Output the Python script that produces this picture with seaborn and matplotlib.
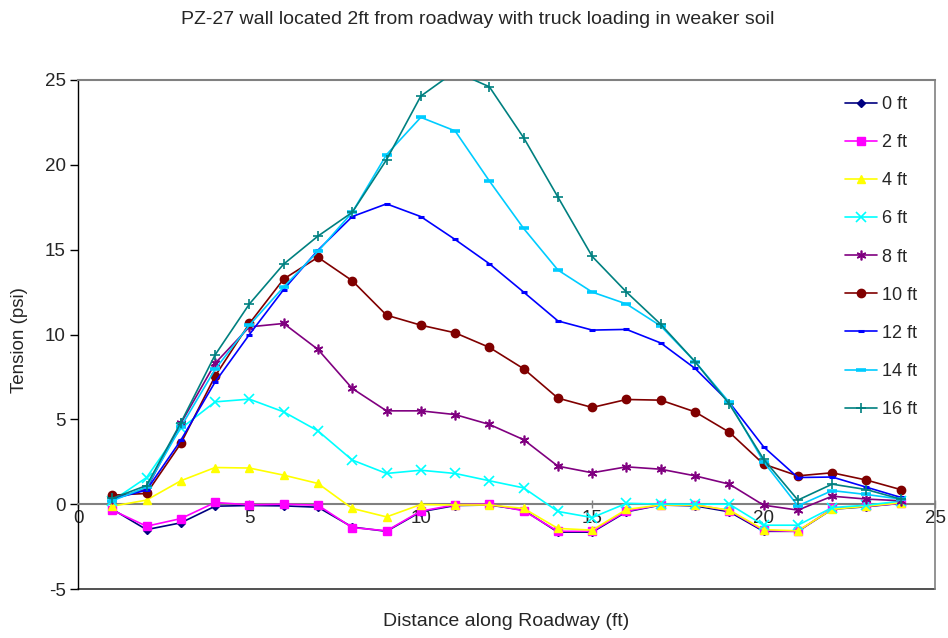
import matplotlib
matplotlib.use("Agg")
import matplotlib.pyplot as plt
import seaborn as sns
import pandas as pd

# Distance along the roadway (ft)
distance = list(range(1, 25))

# Tension (psi) at each depth below the top of the wall
depth_labels = ["0 ft", "2 ft", "4 ft", "6 ft", "8 ft", "10 ft", "12 ft", "14 ft", "16 ft"]

t_0ft = [-0.30, -1.50, -1.10, -0.12, -0.08, -0.10, -0.18, -1.35, -1.60, -0.45, -0.08, -0.05,
         -0.35, -1.65, -1.65, -0.45, -0.05, -0.10, -0.45, -1.60, -1.60, -0.30, -0.15, 0.05]
t_2ft = [-0.35, -1.30, -0.85, 0.10, -0.04, 0.00, -0.06, -1.38, -1.57, -0.41, -0.04, 0.00,
         -0.39, -1.60, -1.60, -0.41, -0.04, -0.04, -0.38, -1.55, -1.60, -0.25, -0.12, 0.05]
t_4ft = [-0.12, 0.24, 1.38, 2.16, 2.13, 1.71, 1.22, -0.25, -0.75, -0.02, -0.05, -0.05,
         -0.25, -1.43, -1.53, -0.31, -0.05, -0.05, -0.35, -1.50, -1.57, -0.30, -0.12, 0.08]
t_6ft = [0.20, 1.57, 4.46, 6.03, 6.19, 5.44, 4.32, 2.60, 1.81, 2.00, 1.81, 1.38,
         0.96, -0.43, -0.79, 0.05, 0.00, 0.00, 0.00, -1.24, -1.24, -0.20, -0.06, 0.18]
t_8ft = [0.30, 0.90, 4.76, 8.30, 10.45, 10.65, 9.12, 6.82, 5.50, 5.50, 5.28, 4.70,
         3.80, 2.24, 1.85, 2.20, 2.06, 1.67, 1.18, -0.06, -0.35, 0.47, 0.30, 0.20]
t_10ft = [0.53, 0.63, 3.58, 7.55, 10.65, 13.27, 14.55, 13.17, 11.14, 10.55, 10.10, 9.24,
          7.98, 6.25, 5.70, 6.17, 6.13, 5.44, 4.24, 2.36, 1.67, 1.85, 1.42, 0.86]
t_12ft = [0.30, 0.83, 3.77, 7.20, 10.00, 12.65, 14.97, 16.95, 17.70, 16.95, 15.60, 14.17,
          12.50, 10.80, 10.26, 10.30, 9.50, 8.00, 6.00, 3.38, 1.57, 1.60, 1.00, 0.40]
t_14ft = [0.20, 1.00, 4.55, 7.95, 10.55, 12.80, 14.90, 17.20, 20.60, 22.80, 22.00, 19.05,
          16.25, 13.80, 12.50, 11.80, 10.50, 8.40, 6.00, 2.50, -0.10, 0.80, 0.57, 0.30]
t_16ft = [0.34, 1.10, 4.80, 8.80, 11.80, 14.15, 15.80, 17.20, 20.30, 24.05, 25.50, 24.60,
          21.60, 18.10, 14.60, 12.50, 10.60, 8.40, 5.90, 2.65, 0.24, 1.18, 0.86, 0.30]

series = [t_0ft, t_2ft, t_4ft, t_6ft, t_8ft, t_10ft, t_12ft, t_14ft, t_16ft]

colors = ["#000080", "#FF00FF", "#FFFF00", "#00FFFF", "#800080",
          "#800000", "#0000FF", "#00CCFF", "#008080"]
markers = ["D", "s", "^", "x", (6, 2, 0), "o", "_", "_", "+"]
msizes = [4, 5.5, 6, 6.5, 7, 6, 4, 6.5, 7.5]
mews = [1, 1, 1, 1.2, 1.2, 1, 2.2, 2.6, 1.2]

sns.set_style("white")
plt.rcParams["font.family"] = ["Liberation Sans", "DejaVu Sans"]
plt.rcParams["axes.unicode_minus"] = False

fig = plt.figure(figsize=(9.48, 6.38), dpi=100)
ax = fig.add_axes([78 / 948, 49 / 638, 857 / 948, 509 / 638])

df = pd.DataFrame({"distance": distance})
for lab, vals, c, m, ms, mew in zip(depth_labels, series, colors, markers, msizes, mews):
    df[lab] = vals
    sns.lineplot(data=df, x="distance", y=lab, ax=ax, color=c, marker=m,
                 markersize=ms, markeredgewidth=mew, markeredgecolor=c,
                 linewidth=1.2, label=lab, zorder=3)

ax.set_xlim(0, 25)
ax.set_ylim(-5, 25)
ax.set_xticks([0, 5, 10, 15, 20, 25])
ax.set_yticks([-5, 0, 5, 10, 15, 20, 25])
ax.set_xlabel("")
ax.set_ylabel("")

# x axis crosses at zero tension
ax.spines["bottom"].set_position(("data", 0))
ax.spines["bottom"].set_color("#808080")
ax.spines["bottom"].set_linewidth(1.5)
ax.spines["left"].set_color("black")
ax.spines["left"].set_linewidth(1.0)
ax.spines["top"].set_color("#808080")
ax.spines["top"].set_linewidth(1.5)
ax.spines["right"].set_color("#808080")
ax.spines["right"].set_linewidth(1.2)
ax.axhline(-5, color="#333333", lw=1.2, zorder=2, clip_on=False)

ax.tick_params(axis="x", direction="inout", length=6, width=1, color="#808080",
               labelsize=13.5, pad=1, bottom=True)
ax.tick_params(axis="y", direction="out", length=6, width=1, color="black",
               labelsize=13.5, pad=3, left=True)

fig.text(478 / 948, 1 - 20 / 638,
         "PZ-27 wall located 2ft from roadway with truck loading in weaker soil",
         ha="center", va="center", fontsize=14)
fig.text(506 / 948, 1 - 622 / 638, "Distance along Roadway (ft)",
         ha="center", va="center", fontsize=14)
fig.text(20 / 948, 1 - 340 / 638, "Tension (psi)", rotation=90,
         ha="center", va="center", fontsize=13.5)

leg = ax.legend(loc="upper left", bbox_to_anchor=(845 / 948, 1 - 96 / 638),
                bbox_transform=fig.transFigure, frameon=False, fontsize=13,
                handlelength=1.75, handletextpad=0.3, labelspacing=1.17,
                borderpad=0, borderaxespad=0)

fig.savefig("out.png", dpi=100)
